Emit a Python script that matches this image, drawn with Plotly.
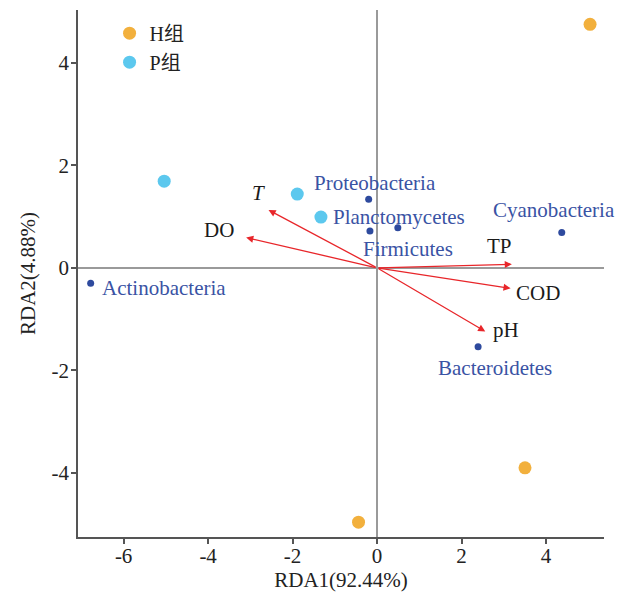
import plotly.graph_objects as go

# ---- data ----
h_x = [5.04, 3.50, -0.44]
h_y = [4.75, -3.90, -4.96]
p_x = [-5.04, -1.89, -1.33]
p_y = [1.69, 1.44, 0.99]

species = ["Actinobacteria", "Proteobacteria", "Planctomycetes", "Firmicutes", "Cyanobacteria", "Bacteroidetes"]
sp_x = [-6.78, -0.20, 0.49, -0.17, 4.37, 2.39]
sp_y = [-0.30, 1.34, 0.78, 0.72, 0.69, -1.54]

env = ["T", "DO", "TP", "COD", "pH"]
env_x = [-2.57, -3.10, 3.19, 3.16, 2.56]
env_y = [1.13, 0.59, 0.07, -0.40, -1.24]

x_ticks = [-6, -4, -2, 0, 2, 4]
x_tick_text = ["-6", "-4", "-2", "0", "2", "4"]
y_ticks = [-4, -2, 0, 2, 4]
y_tick_text = ["-4", "-2", "0", "2", "4"]

# ---- styles ----
FONT = "Liberation Serif, Noto Sans CJK SC, serif"
FS = 21
ORANGE = "#F2B03D"
LBLUE = "#5CC8EE"
DBLUE = "#2E4A9E"
SPTXT = "#3A53A4"
RED = "#E8262A"

sp_shift = {
    "Actinobacteria": (9, -5, "left"),
    "Proteobacteria": (6, 16, "center"),
    "Planctomycetes": (1, 11, "center"),
    "Firmicutes": (38, -18, "center"),
    "Cyanobacteria": (-8, 22, "center"),
    "Bacteroidetes": (17, -21, "center"),
}
env_shift = {
    "T": (-10, 17),
    "DO": (-27, 8),
    "TP": (-12, 18),
    "COD": (27, -5),
    "pH": (21, 1),
}

fig = go.Figure()
fig.add_trace(go.Scatter(x=h_x, y=h_y, mode="markers", name="H组",
                         marker=dict(color=ORANGE, size=13)))
fig.add_trace(go.Scatter(x=p_x, y=p_y, mode="markers", name="P组",
                         marker=dict(color=LBLUE, size=13)))
fig.add_trace(go.Scatter(x=sp_x, y=sp_y, mode="markers", showlegend=False,
                         marker=dict(color=DBLUE, size=7)))

annotations = []
for name, x, y in zip(env, env_x, env_y):
    annotations.append(dict(x=x, y=y, ax=0, ay=0, xref="x", yref="y", axref="x", ayref="y",
                            showarrow=True, arrowhead=2, arrowsize=1.1, arrowwidth=1.3,
                            arrowcolor=RED, text=""))
    dx, dy = env_shift[name]
    txt = "<i>T</i>" if name == "T" else name
    annotations.append(dict(x=x, y=y, xref="x", yref="y", text=txt, showarrow=False,
                            xshift=dx, yshift=dy,
                            font=dict(family=FONT, size=FS, color="#1a1a1a")))
for name, x, y in zip(species, sp_x, sp_y):
    dx, dy, anc = sp_shift[name]
    annotations.append(dict(x=x, y=y, xref="x", yref="y", text=name, showarrow=False,
                            xshift=dx, yshift=dy, xanchor=anc,
                            font=dict(family=FONT, size=FS, color=SPTXT)))

axis_common = dict(showgrid=False, zeroline=True, zerolinecolor="#9a9a9a", zerolinewidth=1.5,
                   showline=True, linecolor="#555555", linewidth=1.5, ticks="outside",
                   ticklen=5, tickcolor="#555555", tickwidth=1.5, automargin=False,
                   tickfont=dict(family=FONT, size=FS, color="#222222"))

fig.update_layout(
    width=621, height=586,
    margin=dict(l=70, r=25, t=2, b=57),
    paper_bgcolor="white", plot_bgcolor="white",
    font=dict(family=FONT, size=FS, color="#222222"),
    xaxis=dict(range=[-7.08, 5.37], tickvals=x_ticks, ticktext=x_tick_text,
               ticklabelstandoff=-6,
               title=dict(text="RDA1(92.44%)", font=dict(family=FONT, size=FS), standoff=2),
               **axis_common),
    yaxis=dict(range=[-5.25, 5.03], tickvals=y_ticks, ticktext=y_tick_text,
               ticklabelstandoff=-2,
               title=dict(text="RDA2(4.88%)", font=dict(family=FONT, size=FS), standoff=10),
               **axis_common),
    legend=dict(x=0.06, y=0.993, xanchor="left", yanchor="top", bgcolor="rgba(0,0,0,0)",
                font=dict(family=FONT, size=20, color="#222222"), itemwidth=30,
                tracegroupgap=0),
    annotations=annotations,
)

fig.write_html("out.html")
